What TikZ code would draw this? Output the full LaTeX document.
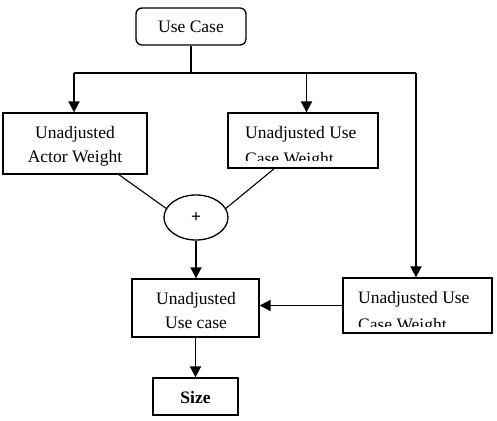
\documentclass[tikz,border=0pt]{standalone}
\usepackage{fontspec}
\setmainfont{Liberation Serif}
\usetikzlibrary{arrows.meta,shapes.geometric}
\begin{document}
\begin{tikzpicture}[x=1pt,y=-1pt,
  box/.style={draw,line width=1.3pt,inner sep=0pt},
  txt/.style={anchor=base,inner sep=0pt,font=\fontsize{17.5}{24}\selectfont},
  conn/.style={line width=1.8pt},
  arr/.style={line width=1.8pt,-{Triangle[length=11pt,width=11pt]}},
  thin/.style={line width=1.1pt}]
\useasboundingbox (0,0) rectangle (497,420);
% boxes
\node[box,rounded corners=6pt,minimum width=110pt,minimum height=37pt] (uc) at (191,26.5) {};
\node[box,minimum width=144pt,minimum height=61pt] (aw) at (75,143.5) {};
\node[box,minimum width=150pt,minimum height=55pt] (ucw) at (303,140.5) {};
\node[box,ellipse,minimum width=64pt,minimum height=45pt] (plus) at (196,217.5) {};
\node[box,minimum width=127pt,minimum height=58pt] (uuc) at (195.5,308) {};
\node[box,minimum width=149pt,minimum height=55pt] (rucw) at (417.5,305.5) {};
\node[box,minimum width=85pt,minimum height=37pt] (size) at (195.5,396.5) {};
% texts
\node[txt] (t1) at (191,33) {Use Case};
\node[txt] (t2) at (75,138) {Unadjusted};
\node[txt] (t3) at (75,162) {Actor Weight};
\node[txt,anchor=base west] (t4) at (245,138) {Unadjusted Use};
\begin{scope}
\clip (229,145) rectangle (377,160);
\node[txt,anchor=base west] (t5) at (245,164) {Case Weight};
\end{scope}
\node[txt,font=\fontsize{17.5}{24}\bfseries] (t6) at (196,222.5) {+};
\node[txt] (t7) at (196,304) {Unadjusted};
\node[txt] (t8) at (196,328) {Use case};
\node[txt,anchor=base west] (t9) at (358,303) {Unadjusted Use};
\begin{scope}
\clip (344,308) rectangle (491,326);
\node[txt,anchor=base west] (t10) at (358,330) {Case Weight};
\end{scope}
\node[txt,font=\fontsize{17.5}{24}\bfseries\selectfont] (t11) at (195.5,403) {Size};
% connectors
\coordinate (split) at (191,73);
\coordinate (lft) at (74,73);
\coordinate (mid) at (306.5,73);
\coordinate (rgt) at (416,73);
\draw[conn] (uc.south) -- (split);
\draw[conn] (lft) -- (rgt);
\draw[arr] (lft) -- (lft |- aw.north);
\draw[arr] (mid) -- (mid |- ucw.north);
\draw[arr] (rgt) -- (rgt |- rucw.north);
\coordinate (awb) at (118,174);
\coordinate (ucwb) at (275,168);
\draw[thin] (awb) -- (plus.163);
\draw[thin] (ucwb) -- (plus.17);
\draw[arr] (plus.south) -- (plus.south |- uuc.north);
\draw[arr] (rucw.west) -- (uuc.east |- rucw.west);
\draw[arr] (uuc.south) -- (size.north);
\end{tikzpicture}
\end{document}
